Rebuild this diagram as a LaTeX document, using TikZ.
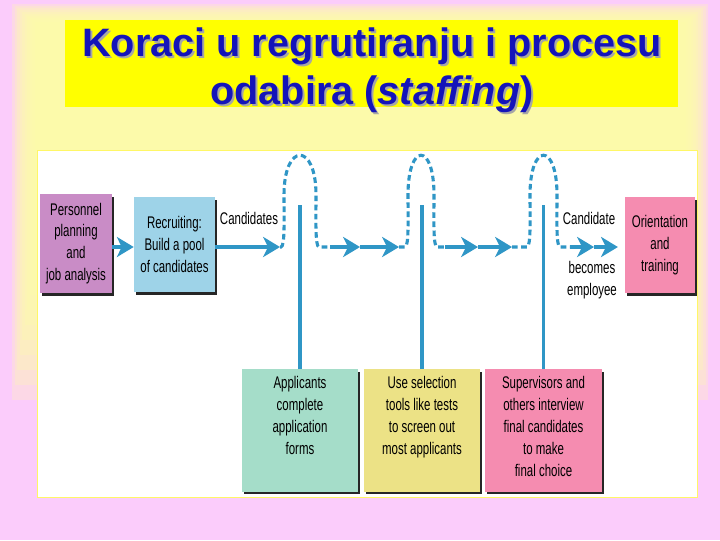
\documentclass[tikz,border=0pt]{standalone}
\usepackage{fontspec}
\setmainfont{Liberation Sans}
\newfontfamily\condfont[FakeStretch=0.68]{Liberation Sans}
\usetikzlibrary{arrows.meta, positioning, shadows}
\definecolor{bgPink}{RGB}{251,204,251}
\definecolor{glowYellow}{RGB}{255,255,168}
\definecolor{titleYellow}{RGB}{255,255,0}
\definecolor{titleBlue}{RGB}{20,20,185}
\definecolor{flowBlue}{RGB}{47,150,198}
\definecolor{planPurple}{RGB}{201,140,198}
\definecolor{recruitBlue}{RGB}{158,211,232}
\definecolor{trainPink}{RGB}{245,140,176}
\definecolor{applyGreen}{RGB}{165,221,201}
\definecolor{screenYellow}{RGB}{236,226,134}

\begin{document}
\begin{tikzpicture}[x=0.025cm, y=-0.025cm,
    every node/.style={font=\condfont\fontsize{12}{15.5}\selectfont},
    stepbox/.style={rectangle, align=flush center, inner xsep=1pt, inner ysep=2pt,
      drop shadow={shadow xshift=0.05cm, shadow yshift=-0.07cm, opacity=1, fill=black!85}},
    lowbox/.style={stepbox, anchor=north, minimum width=2.9cm, text width=2.8cm, inner ysep=5pt, text height=9pt, text depth=68pt},
    flow/.style={flowBlue, line width=2.8pt, -{Stealth[length=0.42cm, width=0.5cm, inset=0.12cm]}},
    hump/.style={flowBlue, line width=2.2pt, dash pattern=on 4pt off 2.5pt},
    stem/.style={flowBlue, line width=2.2pt},
    titletext/.style={anchor=base, align=center, font=\normalfont\bfseries\fontsize{28.2}{34}\selectfont}]
  \useasboundingbox (0,0) rectangle (720,540);
  % Background
  \fill[bgPink] (0,0) rectangle (720,540);
  \foreach \i in {0,...,9}
    \fill[glowYellow, opacity=0.25] ({12+2.5*\i},{4+2*\i}) rectangle ({708-2.5*\i},{400-15*\i});
  \fill[titleYellow] (65,20) rectangle (678,107);
  \filldraw[fill=white, draw=yellow!60, line width=0.6pt] (37,150) rectangle (697,497);
  % Title
  \node[titletext, text=gray!70] (titleshadow) at (374,106) {Koraci u regrutiranju i procesu\\odabira (\textit{staffing})};
  \node[titletext, text=titleBlue] (title) at (372,104) {Koraci u regrutiranju i procesu\\odabira (\textit{staffing})};
  % Steps
  \node[stepbox, fill=planPurple, minimum width=1.8cm, minimum height=2.475cm] (plan) at (76,243.5) {Personnel\\planning\\and\\job analysis};
  \node[stepbox, fill=recruitBlue, minimum width=2.025cm, minimum height=2.375cm] (recruit) at (174.5,244.5) {Recruiting:\\Build a pool\\of candidates};
  \node[stepbox, fill=trainPink, minimum width=1.75cm, minimum height=2.4cm] (orient) at (660,245) {Orientation\\and\\training};
  \node[lowbox, fill=applyGreen] (apply) at (300,369) {Applicants\\complete\\application\\forms};
  \node[lowbox, fill=screenYellow] (screen) at (422,369) {Use selection\\tools like tests\\to screen out\\most applicants};
  \node[lowbox, fill=trainPink] (interview) at (543.5,369) {Supervisors and\\others interview\\final candidates\\to make\\final choice};
  % Labels
  \node (cands) at (249,218) {Candidates};
  \node (cand) at (589,218) {Candidate};
  \node[align=center] (becomes) at (592,280) {becomes\\employee};
  % Flow line
  \coordinate (c1) at (280,247);
  \coordinate (c2) at (330,247);
  \coordinate (c3) at (360,247);
  \coordinate (c4) at (399,247);
  \coordinate (c5) at (445,247);
  \coordinate (c6) at (478,247);
  \coordinate (c7) at (512,247);
  \coordinate (c8) at (570,247);
  \coordinate (c9) at (594,247);
  \coordinate (stemtop) at (0,205);
  \draw[flow] (plan.east |- c1) -- (recruit.west |- c1);
  \draw[flow] (recruit.east |- c1) -- (c1);
  \draw[flow] (c2) -- (c3);
  \draw[flow] (c3) -- (c4);
  \draw[flow] (c5) -- (c6);
  \draw[flow] (c6) -- (c7);
  \draw[flow] (c8) -- (c9);
  \draw[flow, shorten >=0.17cm] (c9) -- (orient.west |- c9);
  % Humps over the selection steps
  \foreach \p/\a/\b/\q in {280/281/319/330, 399/405/437/445, 512/527/560/570}
    \draw[hump] (\p,247) -- (\a,247) .. controls ({\a+4},247) and ({\a+3},218) .. ({\a+3},195)
      .. controls ({\a+3},142) and ({\b-3},142) .. ({\b-3},195)
      .. controls ({\b-3},218) and ({\b-4},247) .. (\b,247) -- (\q,247);
  \foreach \s in {apply,screen,interview}
    \draw[stem] (\s.north) -- (\s.north |- stemtop);
\end{tikzpicture}
\end{document}
